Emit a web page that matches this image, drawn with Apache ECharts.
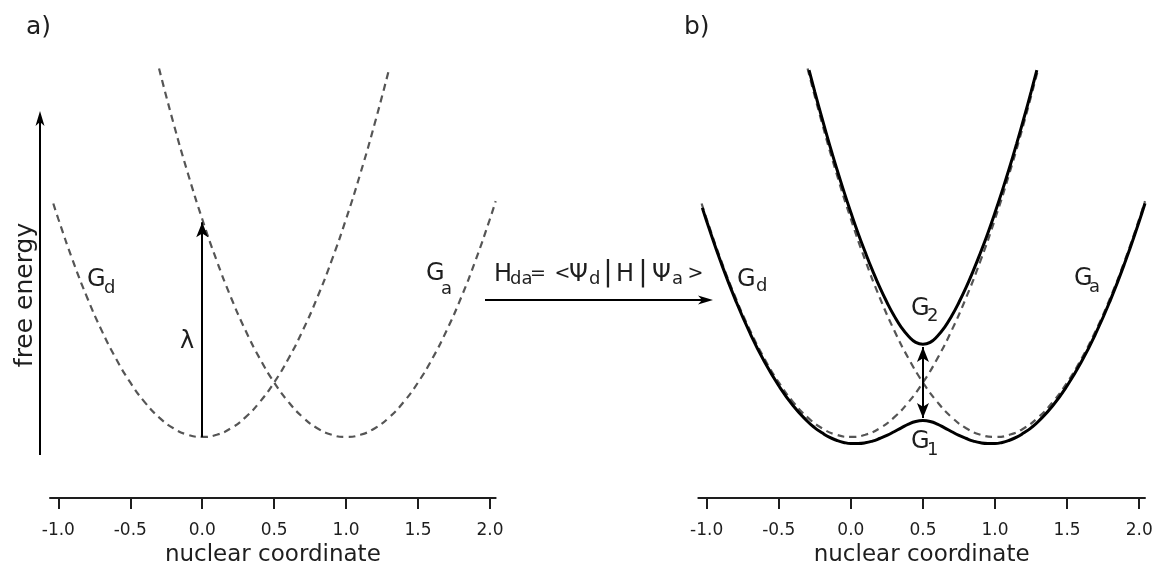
<!DOCTYPE html>
<html>
<head>
<meta charset="utf-8">
<script src="https://cdn.jsdelivr.net/npm/echarts@6/dist/echarts.min.js"></script>
<style>
html,body{margin:0;padding:0;background:#fff;}
#chart{width:1155px;height:575px;}
</style>
</head>
<body>
<div id="chart"></div>
<script>
// ---- data ----
const tickValues = [-1.0, -0.5, 0.0, 0.5, 1.0, 1.5, 2.0];

// donor diabatic free energy curve G_d  [coordinate, energy]
const gdCurve = [[-1.035,1.071],[-1.0,1.00],[-0.9,0.81],[-0.8,0.64],[-0.7,0.49],[-0.6,0.36],[-0.5,0.25],[-0.4,0.16],[-0.3,0.09],[-0.2,0.04],[-0.1,0.01],[0,0],[0.1,0.01],[0.2,0.04],[0.3,0.09],[0.4,0.16],[0.5,0.25],[0.6,0.36],[0.7,0.49],[0.8,0.64],[0.9,0.81],[1.0,1.00],[1.1,1.21],[1.2,1.44],[1.3,1.69]];

// acceptor diabatic free energy curve G_a
const gaCurve = [[-0.3,1.69],[-0.2,1.44],[-0.1,1.21],[0,1.00],[0.1,0.81],[0.2,0.64],[0.3,0.49],[0.4,0.36],[0.5,0.25],[0.6,0.16],[0.7,0.09],[0.8,0.04],[0.9,0.01],[1.0,0],[1.1,0.01],[1.2,0.04],[1.3,0.09],[1.4,0.16],[1.5,0.25],[1.6,0.36],[1.7,0.49],[1.8,0.64],[1.9,0.81],[2.0,1.00],[2.04,1.082]];

// lower adiabatic curve G_1
const g1Curve = [[-1.03,1.051],[-1.0,0.990],[-0.9,0.799],[-0.8,0.628],[-0.7,0.477],[-0.6,0.346],[-0.5,0.235],[-0.4,0.143],[-0.3,0.071],[-0.25,0.042],[-0.2,0.019],[-0.15,-0.001],[-0.1,-0.015],[-0.05,-0.025],[0,-0.030],[0.05,-0.030],[0.1,-0.027],[0.15,-0.019],[0.2,-0.007],[0.25,0.007],[0.3,0.024],[0.35,0.042],[0.4,0.059],[0.45,0.071],[0.5,0.075],[0.55,0.071],[0.6,0.059],[0.65,0.042],[0.7,0.024],[0.75,0.007],[0.8,-0.007],[0.85,-0.019],[0.9,-0.027],[0.95,-0.030],[1.0,-0.030],[1.05,-0.025],[1.1,-0.015],[1.15,-0.001],[1.2,0.019],[1.25,0.042],[1.3,0.071],[1.4,0.143],[1.5,0.235],[1.6,0.346],[1.7,0.477],[1.8,0.628],[1.9,0.799],[2.0,0.990],[2.04,1.072]];

// upper adiabatic curve G_2
const g2Curve = [[-0.29,1.683],[-0.25,1.583],[-0.2,1.462],[-0.15,1.346],[-0.1,1.235],[-0.05,1.130],[0,1.030],[0.05,0.935],[0.1,0.847],[0.15,0.764],[0.2,0.687],[0.25,0.618],[0.3,0.556],[0.35,0.503],[0.4,0.462],[0.45,0.434],[0.5,0.425],[0.55,0.434],[0.6,0.462],[0.65,0.503],[0.7,0.556],[0.75,0.618],[0.8,0.687],[0.85,0.764],[0.9,0.847],[0.95,0.935],[1.0,1.030],[1.05,1.130],[1.1,1.235],[1.15,1.346],[1.2,1.462],[1.25,1.583],[1.29,1.683]];

// reorganisation energy arrow (lambda) and splitting arrow
const lambdaArrow = [[0, 0], [0, 0.985]];
const splitArrow = [[0.5, 0.087], [0.5, 0.413]];

// ---- chart ----
const FONT = 'DejaVu Sans';
const INK = '#1e1e1e';
const DASH = '#555555';

const chart = echarts.init(document.getElementById('chart'), null, {renderer: 'canvas'});

function xAxisDef(i) {
  return {
    type: 'value', gridIndex: i, min: -1.058, max: 2.04,
    name: 'nuclear coordinate', nameLocation: 'middle', nameGap: 44,
    nameTextStyle: {fontFamily: FONT, fontSize: 23, color: INK},
    axisLine: {show: true, onZero: false, lineStyle: {color: INK, width: 2}},
    axisTick: {show: true, customValues: tickValues, length: 11, lineStyle: {color: INK, width: 2}},
    axisLabel: {show: true, customValues: tickValues, formatter: v => v.toFixed(1),
                margin: 24, fontSize: 17, fontFamily: FONT, color: INK},
    splitLine: {show: false}
  };
}
function yAxisDef(i) {
  return {type: 'value', gridIndex: i, min: -0.28, max: 2.0, show: false, splitLine: {show: false}};
}
function dashed(data, gi, extra) {
  return Object.assign({
    type: 'line', xAxisIndex: gi, yAxisIndex: gi, data: data, smooth: true,
    showSymbol: false, symbol: 'none', silent: true, z: 2,
    lineStyle: {color: DASH, width: 2.2, type: [7, 5]}
  }, extra || {});
}
function solid(data, gi, extra) {
  return Object.assign({
    type: 'line', xAxisIndex: gi, yAxisIndex: gi, data: data, smooth: true,
    showSymbol: false, symbol: 'none', silent: true, z: 3,
    lineStyle: {color: '#000', width: 3}
  }, extra || {});
}
function arrowMark(pts, syms) {
  return {
    silent: true, animation: false,
    symbol: syms, symbolSize: [9, 15],
    label: {show: false},
    lineStyle: {color: '#000', width: 2, type: 'solid'},
    emphasis: {disabled: true},
    data: [[{coord: pts[0]}, {coord: pts[1]}]]
  };
}

function txt(x, y, s, fs, align) {
  return {type: 'text', x: x, y: y, silent: true,
          style: {text: s, fontFamily: FONT, fontSize: fs, fill: INK,
                  align: align || 'left', verticalAlign: 'middle'}};
}
function poly(points) {
  return {type: 'polygon', silent: true, shape: {points: points}, style: {fill: '#000'}};
}
function seg(x1, y1, x2, y2) {
  return {type: 'line', silent: true, shape: {x1: x1, y1: y1, x2: x2, y2: y2},
          style: {stroke: '#000', lineWidth: 2}};
}

const BIG = 24, SUB = 18;
const graphics = [
  txt(26, 27, 'a)', 25),
  txt(684, 27, 'b)', 25),
  // free energy axis arrow
  seg(40, 455, 40, 122),
  poly([[40, 111], [35.5, 126], [40, 122], [44.5, 126]]),
  {type: 'text', x: 25, y: 295, rotation: Math.PI / 2, silent: true,
   style: {text: 'free energy', fontFamily: FONT, fontSize: 25, fill: INK, align: 'center', verticalAlign: 'middle'}},
  // left labels
  txt(87, 279.6, 'G', BIG), txt(104, 288.7, 'd', SUB),
  txt(426, 273.6, 'G', BIG), txt(441, 289.7, 'a', SUB),
  txt(187, 341.6, 'λ', BIG, 'center'),
  // coupling text and arrow
  txt(494, 274.6, 'H', BIG), txt(510, 279, 'da', SUB),
  txt(530, 274, '=', 19), txt(554.5, 274, '<', 19), txt(569, 274.6, 'Ψ', BIG),
  txt(589, 279, 'd', SUB),
  txt(608, 273.6, '|', 28, 'center'), txt(616, 274.6, 'H', BIG),
  txt(643, 273.6, '|', 28, 'center'), txt(652, 274.6, 'Ψ', BIG),
  txt(672, 279, 'a', SUB), txt(687.5, 274, '>', 19),
  seg(485, 300, 702, 300),
  poly([[713, 300], [698, 295.5], [702, 300], [698, 304.5]]),
  // right labels
  txt(737, 279.6, 'G', BIG), txt(756, 286.7, 'd', SUB),
  txt(1074, 278.6, 'G', BIG), txt(1089, 287.7, 'a', SUB),
  txt(911, 308.6, 'G', BIG), txt(927, 316.7, '2', SUB),
  txt(911, 441.6, 'G', BIG), txt(927, 450.7, '1', SUB)
];

const option = {
  animation: false,
  backgroundColor: '#fff',
  grid: [
    {left: 50, top: 1, width: 445.7, bottom: 77, outerBoundsMode: 'none', containLabel: false},
    {left: 698.3, top: 1, width: 446.7, bottom: 77, outerBoundsMode: 'none', containLabel: false}
  ],
  xAxis: [xAxisDef(0), xAxisDef(1)],
  yAxis: [yAxisDef(0), yAxisDef(1)],
  series: [
    dashed(gdCurve, 0, {markLine: arrowMark(lambdaArrow, ['none', 'arrow'])}),
    dashed(gaCurve, 0),
    dashed(gdCurve, 1),
    dashed(gaCurve, 1),
    solid(g1Curve, 1, {markLine: arrowMark(splitArrow, ['arrow', 'arrow'])}),
    solid(g2Curve, 1)
  ],
  graphic: graphics
};
chart.setOption(option);
</script>
</body>
</html>
